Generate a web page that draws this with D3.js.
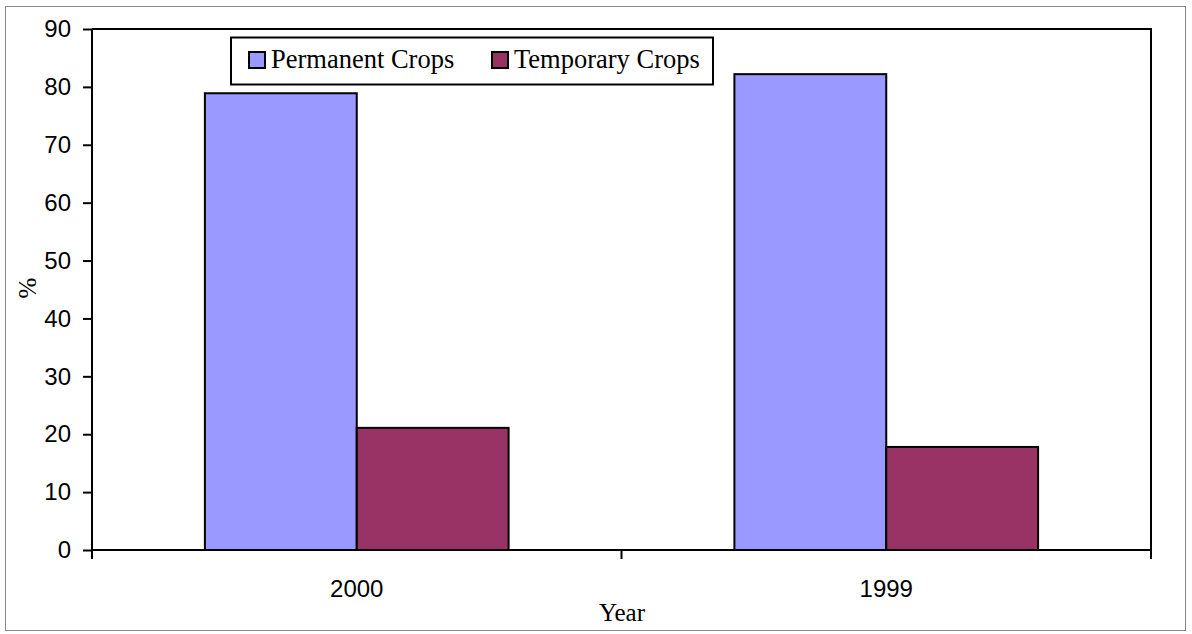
<!DOCTYPE html>
<html><head><meta charset="utf-8">
<script src="https://cdn.jsdelivr.net/npm/d3@7"></script>
<style>body{margin:0;background:#fff}svg{display:block}</style>
</head><body>
<script>
const categories = ["2000", "1999"];
const seriesNames = ["Permanent Crops", "Temporary Crops"];
const permanentValues = [78.9, 82.2];
const temporaryValues = [21.1, 17.8];
const yTicks = [0, 10, 20, 30, 40, 50, 60, 70, 80, 90];
const colors = ["#9999ff", "#993366"];

const W = 1192, H = 634;
const m = {left: 92, right: 1151, top: 29, bottom: 550};
const svg = d3.select("body").append("svg").attr("width", W).attr("height", H);

svg.append("rect").attr("x", 5.5).attr("y", 6.5).attr("width", 1180).attr("height", 624)
  .attr("fill", "#fff").attr("stroke", "#888").attr("stroke-width", 1);

const x = d3.scaleBand().domain(categories).range([m.left, m.right]).paddingInner(0).paddingOuter(0);
const x1 = d3.scaleBand().domain(seriesNames).range([0, x.bandwidth()]).paddingInner(0).paddingOuter(0.7435);
const y = d3.scaleLinear().domain([0, 90]).range([m.bottom, m.top]);

// plot frame (top & right)
svg.append("path").attr("d", `M${m.left},${m.top}H${m.right}V${m.bottom}`)
  .attr("fill", "none").attr("stroke", "#000").attr("stroke-width", 2);

const data = categories.map((c, i) => ({cat: c, vals: [permanentValues[i], temporaryValues[i]]}));
const g = svg.append("g");
data.forEach(d => {
  d.vals.forEach((v, j) => {
    g.append("rect")
      .attr("x", x(d.cat) + x1(seriesNames[j]))
      .attr("y", y(v))
      .attr("width", x1.bandwidth())
      .attr("height", y(0) - y(v))
      .attr("fill", colors[j]).attr("stroke", "#000").attr("stroke-width", 2);
  });
});

// y axis
const yAxis = d3.axisLeft(y).tickValues(yTicks).tickSize(9).tickPadding(12);
const ya = svg.append("g").attr("transform", `translate(${m.left},0)`).call(yAxis);
ya.select(".domain").attr("stroke-width", 2).attr("d", `M0,${m.top}V${m.bottom}`);
ya.selectAll(".tick line").attr("stroke-width", 2);
ya.selectAll("text").attr("font-family", "Liberation Sans, Arial, sans-serif").attr("font-size", 24).attr("fill", "#000");

// x axis
const xAxis = d3.axisBottom(x).tickSize(0).tickPadding(30);
const xa = svg.append("g").attr("transform", `translate(0,${m.bottom})`).call(xAxis);
xa.select(".domain").attr("stroke-width", 2).attr("d", `M${m.left},0H${m.right}`);
xa.selectAll("text").attr("font-family", "Liberation Sans, Arial, sans-serif").attr("font-size", 24).attr("fill", "#000");
// category boundary ticks
const bounds = [m.left, ...categories.slice(1).map(c => x(c)), m.right];
svg.selectAll(".btick").data(bounds).enter().append("line")
  .attr("x1", d => d).attr("x2", d => d).attr("y1", m.bottom).attr("y2", m.bottom + 9)
  .attr("stroke", "#000").attr("stroke-width", 2);

// axis titles
svg.append("text").attr("x", 622).attr("y", 621).attr("text-anchor", "middle")
  .attr("font-family", "Liberation Serif, Times New Roman, serif").attr("font-size", 25).text("Year");
svg.append("text").attr("transform", "translate(36,288) rotate(-90)").attr("text-anchor", "middle")
  .attr("font-family", "Liberation Serif, Times New Roman, serif").attr("font-size", 25).text("%");

// legend
const lg = svg.append("g");
lg.append("rect").attr("x", 231).attr("y", 37.5).attr("width", 482).attr("height", 47)
  .attr("fill", "#fff").attr("stroke", "#000").attr("stroke-width", 2);
const legX = [249, 492];
seriesNames.forEach((s, j) => {
  lg.append("rect").attr("x", legX[j]).attr("y", 52).attr("width", 16).attr("height", 16)
    .attr("fill", colors[j]).attr("stroke", "#000").attr("stroke-width", 2);
  lg.append("text").attr("x", legX[j] + 22).attr("y", 68)
    .attr("font-family", "Liberation Serif, Times New Roman, serif").attr("font-size", 26.5).text(s);
});
</script>
</body></html>
